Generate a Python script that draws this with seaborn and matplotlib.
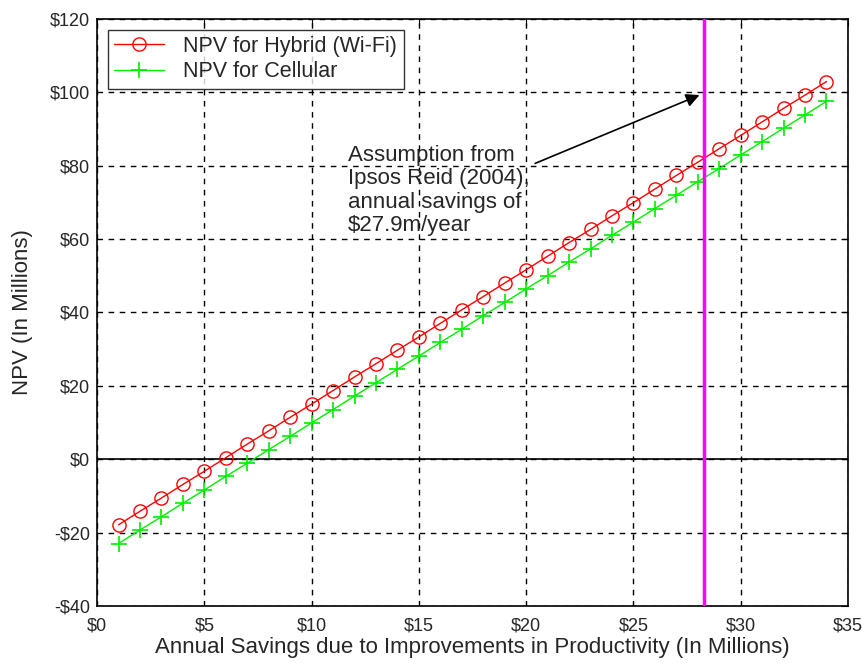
import numpy as np
import pandas as pd
import matplotlib
matplotlib.use("Agg")
import matplotlib.pyplot as plt
import seaborn as sns

# values
savings = list(range(1, 35))
npv_hybrid = [-17.9, -14.2, -10.6, -6.9, -3.3, 0.4, 4.1, 7.7, 11.4, 15.0,
              18.7, 22.4, 26.0, 29.7, 33.3, 37.0, 40.7, 44.3, 48.0, 51.6,
              55.3, 59.0, 62.6, 66.3, 69.9, 73.6, 77.3, 80.9, 84.6, 88.2,
              91.9, 95.6, 99.2, 102.9]
npv_cellular = [-23.0, -19.3, -15.7, -12.0, -8.4, -4.7, -1.1, 2.6, 6.2, 9.9,
                13.5, 17.2, 20.8, 24.5, 28.1, 31.8, 35.4, 39.1, 42.7, 46.4,
                50.0, 53.7, 57.3, 61.0, 64.6, 68.3, 71.9, 75.6, 79.2, 82.9,
                86.5, 90.2, 93.8, 97.5]
assumption_x = 28.3
x_ticks = [0, 5, 10, 15, 20, 25, 30, 35]
y_ticks = [-40, -20, 0, 20, 40, 60, 80, 100, 120]

df = pd.DataFrame({"savings": savings, "hybrid": npv_hybrid, "cellular": npv_cellular})

sns.set_style("white")
plt.rcParams["font.family"] = ["Liberation Sans", "DejaVu Sans"]

fig = plt.figure(figsize=(8.67, 6.71), dpi=100)
ax = fig.add_axes([0.112, 0.097, 0.866, 0.875])

sns.lineplot(data=df, x="savings", y="hybrid", ax=ax, color="red", lw=1,
             marker="o", markersize=9.5, markerfacecolor="none",
             markeredgecolor="red", markeredgewidth=1,
             label="NPV for Hybrid (Wi-Fi)")
sns.lineplot(data=df, x="savings", y="cellular", ax=ax, color="#00ee00", lw=1,
             marker="+", markersize=11, markeredgewidth=1.2,
             markeredgecolor="#00ee00",
             label="NPV for Cellular")

ax.axhline(0, color="black", lw=1.2, zorder=1)
ax.axvline(assumption_x, color="magenta", lw=2.5, zorder=3)

ax.set_xlim(0, 35)
ax.set_ylim(-40, 120)
ax.set_xticks(x_ticks)
ax.set_yticks(y_ticks)
ax.set_xticklabels([f"${v}" for v in x_ticks])
ax.set_yticklabels([f"-${-v}" if v < 0 else f"${v}" for v in y_ticks])
ax.tick_params(direction="in", top=True, right=True, length=5, labelsize=13, color="black")
ax.tick_params(axis="x", pad=8)
ax.tick_params(axis="y", pad=5)
ax.grid(True, color="black", linestyle=(0, (4, 4)), lw=1)
for s in ax.spines.values():
    s.set_color("black")
    s.set_linewidth(1.2)

ax.set_xlabel("Annual Savings due to Improvements in Productivity (In Millions)",
              fontsize=16, labelpad=2)
ax.set_ylabel("NPV (In Millions)", fontsize=16, labelpad=12)

ax.annotate("", xy=(assumption_x - 0.1, 99.5), xytext=(20.3, 80.3),
            arrowprops=dict(arrowstyle="-|>", color="black", lw=1.2, mutation_scale=20))
ax.text(11.7, 85.6, "Assumption from\nIpsos Reid (2004),\nannual savings of\n$27.9m/year",
        fontsize=16, va="top", ha="left", linespacing=1.15)

leg = ax.legend(loc="upper left", fontsize=15.5, frameon=True, fancybox=False,
                edgecolor="black", borderaxespad=0.5, handlelength=2.3,
                borderpad=0.3, labelspacing=0.2, handletextpad=0.9)
leg.get_frame().set_linewidth(1)

fig.savefig("out.png", dpi=100)
